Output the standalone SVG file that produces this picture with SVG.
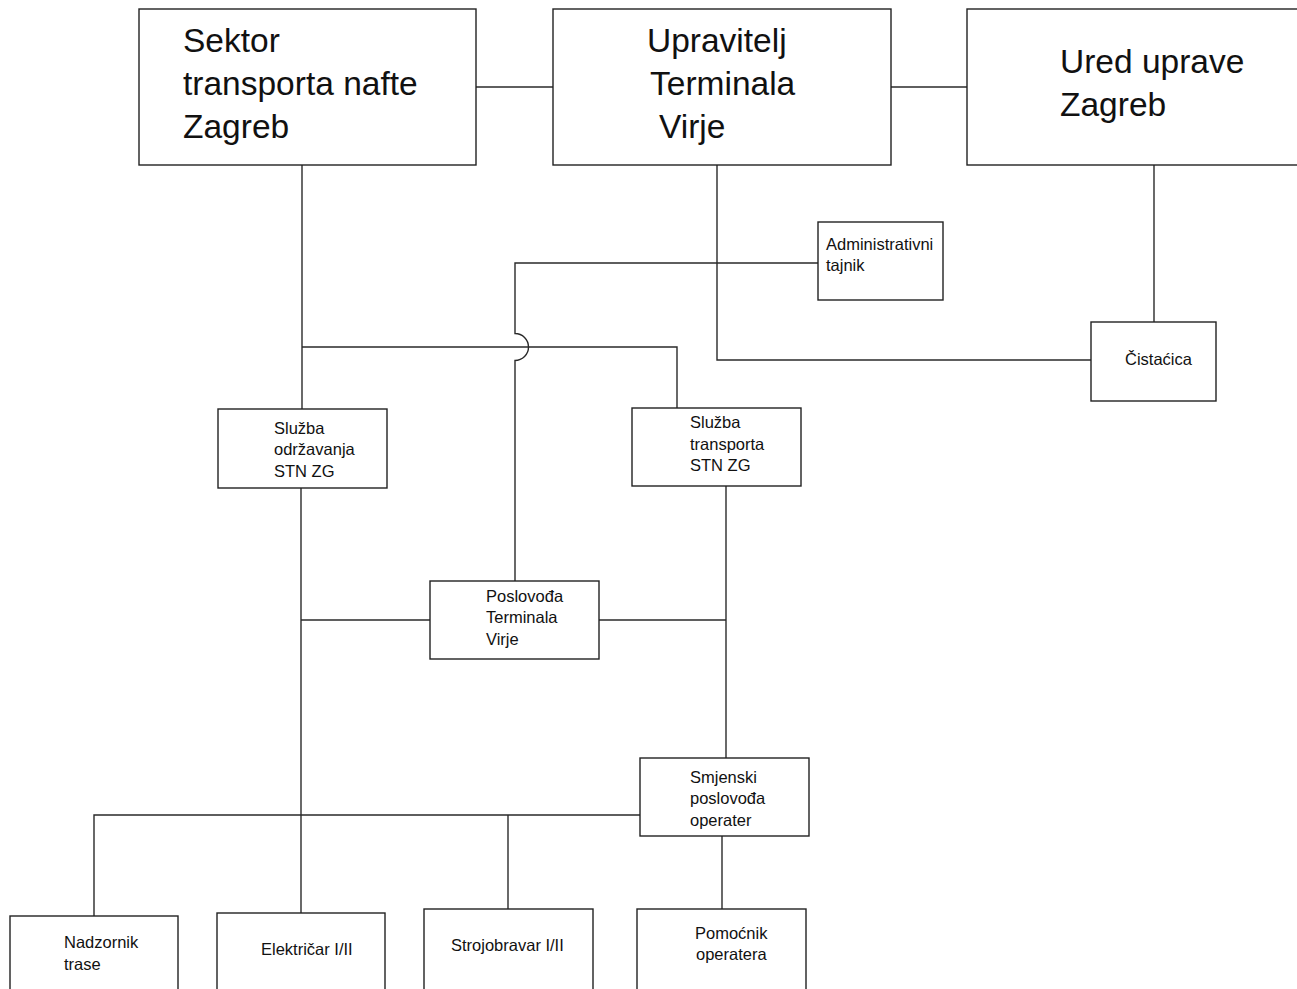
<svg xmlns="http://www.w3.org/2000/svg" width="1297" height="989" viewBox="0 0 1297 989">
  <style>
    .box { fill: #ffffff; stroke: #222222; stroke-width: 1.4; }
    .line { fill: none; stroke: #2a2a2a; stroke-width: 1.4; }
    .big { font-family: "Liberation Sans", Arial, sans-serif; font-size: 33.5px; fill: #111111; }
    .small { font-family: "Liberation Sans", Arial, sans-serif; font-size: 16.5px; fill: #111111; }
  </style>
  <rect x="0" y="0" width="1297" height="989" fill="#ffffff"/>

  <!-- connectors -->
  <g id="connectors">
    <path class="line" d="M476 87 H553"/>
    <path class="line" d="M891 87 H967"/>
    <path class="line" d="M302 165 V409"/>
    <path class="line" d="M302 347 H677 V408"/>
    <!-- line to Poslovođa, hopping over the horizontal at y=347 -->
    <path class="line" d="M818 263 H515 V333.5 A13.5 13.5 0 0 1 515 360.5 V581"/>
    <path class="line" d="M717 165 V360 H1091"/>
    <path class="line" d="M1154 165 V322"/>
    <path class="line" d="M301 488 V913"/>
    <path class="line" d="M301 620 H430"/>
    <path class="line" d="M599 620 H726"/>
    <path class="line" d="M726 486 V758"/>
    <path class="line" d="M640 815 H94 V916"/>
    <path class="line" d="M508 815 V909"/>
    <path class="line" d="M722 836 V909"/>
  </g>

  <g id="sektor">
    <rect class="box" x="139" y="9" width="337" height="156"/>
    <text class="big" x="183" y="52">Sektor</text>
    <text class="big" x="183" y="95">transporta nafte</text>
    <text class="big" x="183" y="138">Zagreb</text>
  </g>

  <g id="upravitelj">
    <rect class="box" x="553" y="9" width="338" height="156"/>
    <text class="big" x="647" y="52">Upravitelj</text>
    <text class="big" x="650" y="95">Terminala</text>
    <text class="big" x="659" y="138">Virje</text>
  </g>

  <g id="ured-uprave">
    <rect class="box" x="967" y="9" width="340" height="156"/>
    <text class="big" x="1060" y="73">Ured uprave</text>
    <text class="big" x="1060" y="116">Zagreb</text>
  </g>

  <g id="administrativni-tajnik">
    <rect class="box" x="818" y="222" width="125" height="78"/>
    <text class="small" x="826" y="250">Administrativni</text>
    <text class="small" x="826" y="271">tajnik</text>
  </g>

  <g id="cistacica">
    <rect class="box" x="1091" y="322" width="125" height="79"/>
    <text class="small" x="1125" y="365">Čistaćica</text>
  </g>

  <g id="sluzba-odrzavanja">
    <rect class="box" x="218" y="409" width="169" height="79"/>
    <text class="small" x="274" y="434">Služba</text>
    <text class="small" x="274" y="455">održavanja</text>
    <text class="small" x="274" y="477">STN ZG</text>
  </g>

  <g id="sluzba-transporta">
    <rect class="box" x="632" y="408" width="169" height="78"/>
    <text class="small" x="690" y="428">Služba</text>
    <text class="small" x="690" y="450">transporta</text>
    <text class="small" x="690" y="471">STN ZG</text>
  </g>

  <g id="poslovoda">
    <rect class="box" x="430" y="581" width="169" height="78"/>
    <text class="small" x="486" y="602">Poslovođa</text>
    <text class="small" x="486" y="623">Terminala</text>
    <text class="small" x="486" y="645">Virje</text>
  </g>

  <g id="smjenski-poslovoda">
    <rect class="box" x="640" y="758" width="169" height="78"/>
    <text class="small" x="690" y="783">Smjenski</text>
    <text class="small" x="690" y="804">poslovođa</text>
    <text class="small" x="690" y="826">operater</text>
  </g>

  <g id="nadzornik-trase">
    <rect class="box" x="10" y="916" width="168" height="90"/>
    <text class="small" x="64" y="948">Nadzornik</text>
    <text class="small" x="64" y="970">trase</text>
  </g>

  <g id="elektricar">
    <rect class="box" x="217" y="913" width="168" height="90"/>
    <text class="small" x="261" y="955">Električar I/II</text>
  </g>

  <g id="strojobravar">
    <rect class="box" x="424" y="909" width="169" height="90"/>
    <text class="small" x="451" y="951">Strojobravar I/II</text>
  </g>

  <g id="pomocnik-operatera">
    <rect class="box" x="637" y="909" width="169" height="90"/>
    <text class="small" x="695" y="939">Pomoćnik</text>
    <text class="small" x="696" y="960">operatera</text>
  </g>
</svg>
